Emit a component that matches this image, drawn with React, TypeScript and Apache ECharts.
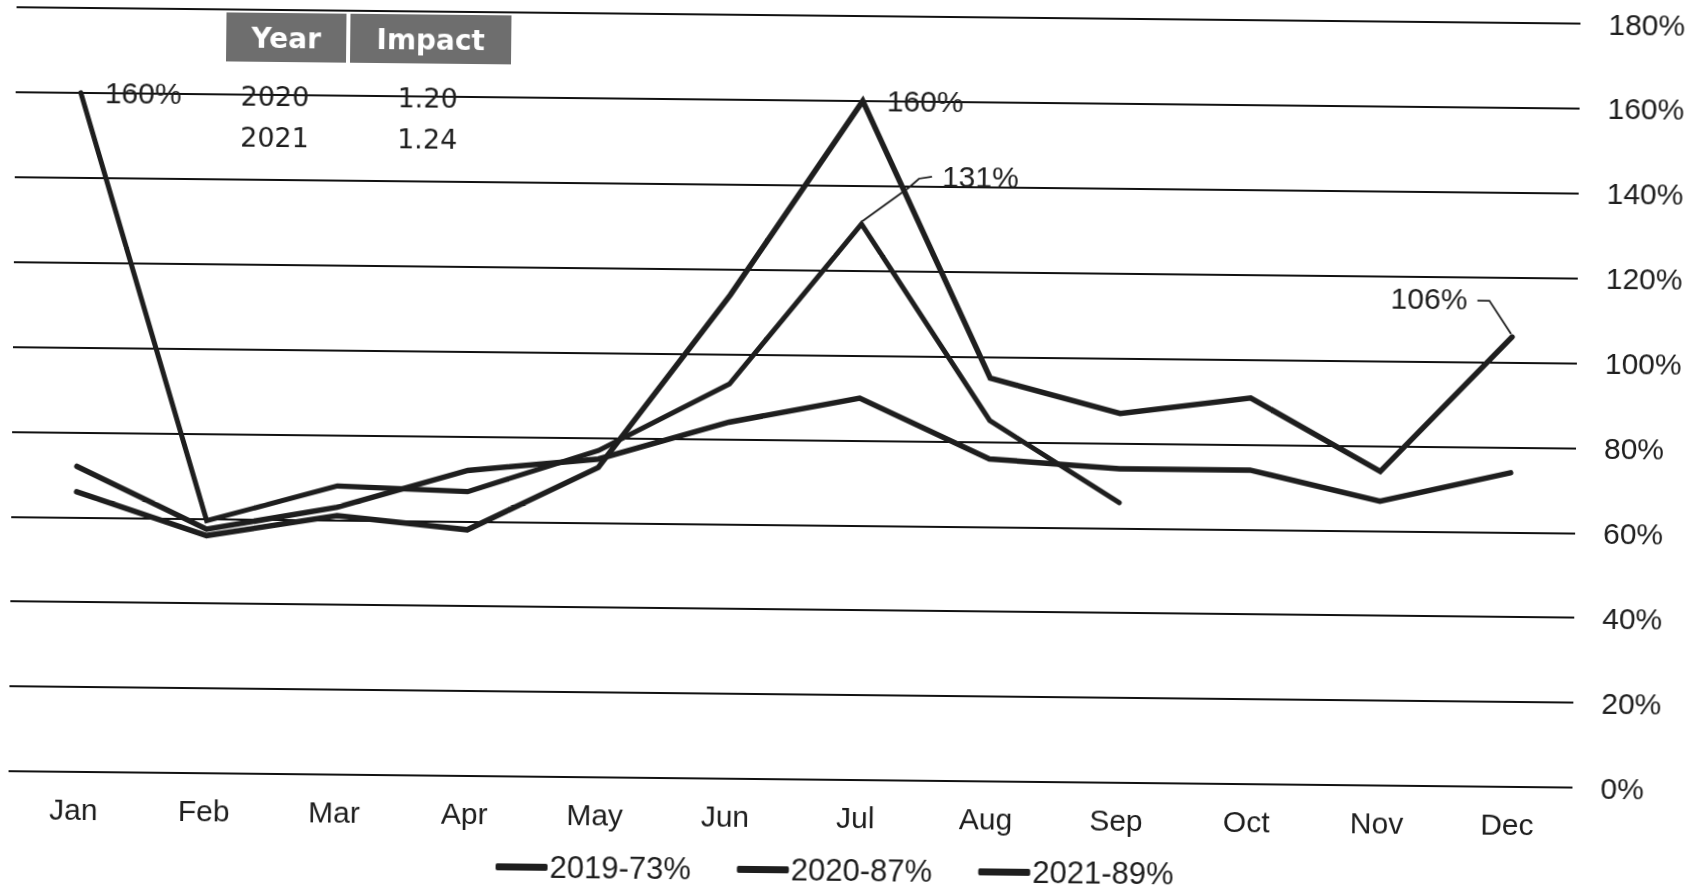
import { useEffect, useRef } from "react";
import * as echarts from "echarts";

// Monthly ratio by year (percent)
const months = ["Jan", "Feb", "Mar", "Apr", "May", "Jun", "Jul", "Aug", "Sep", "Oct", "Nov", "Dec"];
const ratio2019 = [72, 57.5, 63, 72, 75, 84, 90, 76, 74, 74, 67, 74];
const ratio2020 = [66, 56, 61, 58, 73, 114, 160, 95, 87, 91, 74, 106];
const ratio2021 = [160, 59.5, 68, 67, 77, 93, 131, 85, 66, null, null, null];
const seriesNames = ["2019-73%", "2020-87%", "2021-89%"];

// Value axis ticks
const yMin = 0;
const yMax = 180;
const yStep = 20;

// Impact table
const tableHeaders = ["Year", "Impact"];
const impactYears = ["2020", "2021"];
const impactFactors = [1.2, 1.24];

// Points that carry a value callout: [series index, month index, style]
const callouts: [number, number, string][] = [
  [2, 0, "right"],
  [1, 6, "right"],
  [2, 6, "leaderRight"],
  [1, 11, "leaderLeft"],
];

const INK = "#1e1e1e";
const SANS = '"Liberation Sans", Arial, sans-serif';
const TABLE_FONT = '"DejaVu Sans", Verdana, sans-serif';

export default function App() {
  const ref = useRef<HTMLDivElement>(null);

  useEffect(() => {
    if (!ref.current) return;
    const chart = echarts.init(ref.current, null, { renderer: "svg" });
    const allSeries = [ratio2019, ratio2020, ratio2021];

    chart.setOption({
      animation: false,
      backgroundColor: "#ffffff",
      textStyle: { fontFamily: SANS, color: INK },
      grid: { left: 12, right: 128, top: 16, bottom: 113, containLabel: false },
      legend: {
        data: seriesNames,
        left: 500,
        top: 855,
        padding: 0,
        itemGap: 46,
        itemWidth: 52,
        itemHeight: 7,
        icon: "roundRect",
        textStyle: { fontSize: 31, color: INK, fontFamily: SANS, padding: [0, 0, 0, -3] },
      },
      xAxis: {
        type: "category",
        data: months,
        boundaryGap: true,
        axisLine: { show: false },
        axisTick: { show: false },
        axisLabel: { fontSize: 30, color: INK, margin: 22, fontFamily: SANS },
        splitLine: { show: false },
      },
      yAxis: {
        type: "value",
        position: "right",
        min: yMin,
        max: yMax,
        interval: yStep,
        axisLine: { show: false },
        axisTick: { show: false },
        axisLabel: {
          fontSize: 30,
          color: INK,
          margin: 28,
          fontFamily: SANS,
          formatter: (v: number) => `${v}%`,
        },
        splitLine: { show: true, lineStyle: { color: "#111111", width: 2 } },
      },
      series: allSeries.map((data, i) => ({
        name: seriesNames[i],
        type: "line",
        data,
        symbol: "none",
        connectNulls: false,
        color: INK,
        lineStyle: {
          color: INK,
          width: i === 2 ? 5 : 5.5,
          join: "miter",
          miterLimit: 10,
          cap: "round",
        },
        z: 3 + i,
      })),
    });

    const graphics: any[] = [];

    // Impact table header cells
    const headerCells = [
      { x: 222, w: 120 },
      { x: 346, w: 161 },
    ];
    headerCells.forEach((c, i) => {
      graphics.push({
        type: "rect",
        z: 100,
        shape: { x: c.x, y: 19, width: c.w, height: 49 },
        style: { fill: "#6e6e6e" },
      });
      graphics.push({
        type: "text",
        z: 101,
        style: {
          text: tableHeaders[i],
          x: c.x + c.w / 2,
          y: 44,
          textAlign: "center",
          textVerticalAlign: "middle",
          align: "center",
          verticalAlign: "middle",
          font: `bold 28px ${TABLE_FONT}`,
          fill: "#ffffff",
        },
      });
    });
    impactYears.forEach((yr, r) => {
      const y = 102 + r * 41;
      graphics.push({
        type: "text",
        z: 101,
        style: {
          text: yr,
          x: 237,
          y,
          textAlign: "left",
          textVerticalAlign: "middle",
          align: "left",
          verticalAlign: "middle",
          font: `27px ${TABLE_FONT}`,
          fill: INK,
        },
      });
      graphics.push({
        type: "text",
        z: 101,
        style: {
          text: impactFactors[r].toFixed(2),
          x: 424,
          y,
          textAlign: "center",
          textVerticalAlign: "middle",
          align: "center",
          verticalAlign: "middle",
          font: `27px ${TABLE_FONT}`,
          fill: INK,
        },
      });
    });

    // Value callouts, placed from the series' own coordinates
    callouts.forEach(([si, mi, kind]) => {
      const v = allSeries[si][mi] as number;
      const [px, py] = chart.convertToPixel({ seriesIndex: si }, [mi, v]) as number[];
      const label = `${v}%`;
      let tx = px + 24;
      let ty = py;
      let align = "left";
      if (kind === "leaderRight") {
        graphics.push({
          type: "polyline",
          z: 50,
          shape: { points: [[px + 1, py - 3], [px + 47, py - 37], [px + 57, py - 46], [px + 70, py - 48]] },
          style: { stroke: INK, lineWidth: 1.8, fill: null },
        });
        tx = px + 80;
        ty = py - 48;
      } else if (kind === "leaderLeft") {
        graphics.push({
          type: "polyline",
          z: 50,
          shape: { points: [[px - 1, py - 3], [px - 23, py - 36], [px - 35, py - 36]] },
          style: { stroke: INK, lineWidth: 1.8, fill: null },
        });
        tx = px - 45;
        ty = py - 38;
        align = "right";
      }
      graphics.push({
        type: "text",
        z: 60,
        style: {
          text: label,
          x: tx,
          y: ty,
          textAlign: align,
          textVerticalAlign: "middle",
          align,
          verticalAlign: "middle",
          font: `30px ${SANS}`,
          fill: INK,
        },
      });
    });

    chart.setOption({ graphic: graphics });

    return () => chart.dispose();
  }, []);

  return (
    <div
      ref={ref}
      style={{
        position: "fixed",
        left: 0,
        top: 0,
        width: 1704,
        height: 893,
        transform: "rotate(0.6deg)",
        transformOrigin: "50% 50%",
      }}
    />
  );
}
